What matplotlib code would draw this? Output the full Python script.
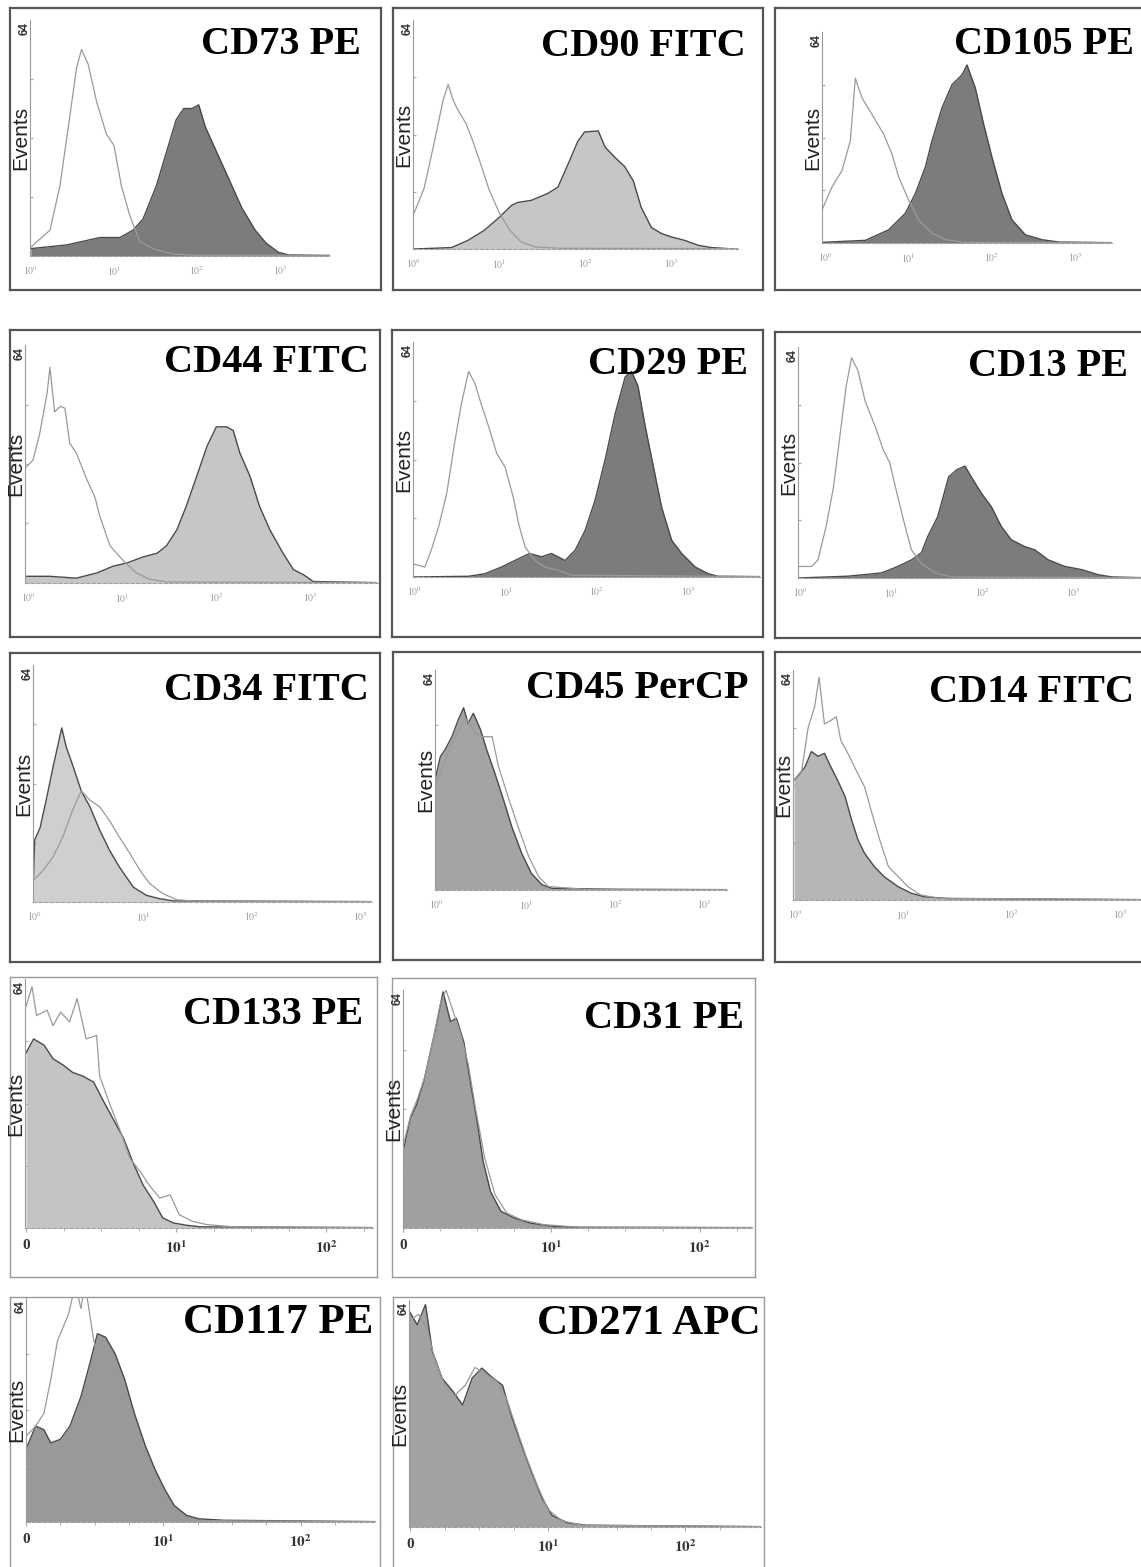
import matplotlib
matplotlib.use('Agg')
import matplotlib.pyplot as plt

plt.rcParams['mathtext.fontset'] = 'stix'

# ---- data: x in decades (rows 1-3) or display units (rows 4-5), y = events (0-64)
cd73_ctrl_x = [0, 0.23, 0.35, 0.47, 0.55, 0.61, 0.69, 0.79, 0.91, 1.0, 1.09, 1.19, 1.31, 1.47, 1.71, 2.0, 3.6]
cd73_ctrl_y = [2.4, 7, 19, 38, 51, 56, 52, 42, 33, 30, 19, 11, 4, 2, 0.5, 0.2, 0.2]
cd73_pos_x = [0, 0.43, 0.83, 1.07, 1.23, 1.35, 1.51, 1.63, 1.75, 1.84, 1.94, 2.02, 2.1, 2.22, 2.38, 2.54, 2.7, 2.83, 2.98, 3.1, 3.6]
cd73_pos_y = [2, 3, 5, 5, 7, 10, 19, 28, 37, 40, 40, 41, 35, 29, 21, 13, 7, 3.5, 1, 0.3, 0.1]

cd90_ctrl_x = [0, 0.12, 0.24, 0.34, 0.40, 0.46, 0.51, 0.61, 0.69, 0.79, 0.88, 1.0, 1.12, 1.25, 1.41, 1.7, 3.78]
cd90_ctrl_y = [9.9, 17, 30, 41.5, 46, 41.5, 39, 35, 30, 23, 16.4, 9.9, 5.2, 2, 0.6, 0.2, 0.1]
cd90_pos_x = [0, 0.44, 0.63, 0.82, 0.98, 1.14, 1.21, 1.37, 1.56, 1.68, 1.8, 1.91, 1.99, 2.15, 2.23, 2.34, 2.46, 2.56, 2.65, 2.77, 2.89, 3.0, 3.16, 3.32, 3.47, 3.74]
cd90_pos_y = [0, 0.4, 2.4, 5.2, 8.5, 12.2, 13, 13.6, 15.5, 17.3, 23.8, 30, 32.7, 33, 28.5, 25.7, 23, 19, 11.7, 6, 4.3, 3.4, 2.4, 1, 0.4, 0]

cd105_ctrl_x = [-0.04, 0.08, 0.2, 0.3, 0.36, 0.44, 0.56, 0.7, 0.8, 0.88, 1.0, 1.12, 1.28, 1.44, 1.68, 3.44]
cd105_ctrl_y = [10, 17, 22, 31, 50, 44, 39, 33, 27, 20, 13, 7, 3, 1, 0.2, 0.1]
cd105_pos_x = [-0.04, 0.48, 0.76, 0.96, 1.08, 1.2, 1.28, 1.4, 1.52, 1.64, 1.7, 1.8, 1.9, 2.0, 2.12, 2.24, 2.4, 2.6, 2.8, 3.44]
cd105_pos_y = [0.2, 0.8, 4, 9, 15, 23, 31, 41, 48, 51, 54, 47, 36, 26, 15, 7, 2.5, 1, 0.3, 0.1]

cd44_ctrl_x = [-0.03, 0.05, 0.12, 0.2, 0.23, 0.28, 0.34, 0.39, 0.44, 0.51, 0.62, 0.71, 0.76, 0.87, 1.01, 1.15, 1.29, 1.47, 3.7]
cd44_ctrl_y = [31, 33, 40, 51, 58, 46, 47.5, 47, 37.6, 35, 28, 23, 18, 10, 6, 2.7, 1, 0.3, 0.1]
cd44_pos_x = [-0.03, 0.23, 0.51, 0.73, 0.9, 1.05, 1.22, 1.37, 1.47, 1.58, 1.68, 1.79, 1.9, 2.0, 2.11, 2.18, 2.25, 2.36, 2.46, 2.57, 2.71, 2.82, 2.93, 3.03, 3.7]
cd44_pos_y = [1.8, 1.8, 1.3, 2.7, 4.5, 5.4, 7, 8, 10, 14.3, 20.6, 28.6, 36.7, 42, 42, 41, 35, 28.6, 20.6, 14.3, 8, 3.6, 2.2, 0.4, 0.1]

cd29_ctrl_x = [-0.02, 0.11, 0.18, 0.26, 0.35, 0.44, 0.51, 0.59, 0.66, 0.73, 0.81, 0.9, 0.99, 1.08, 1.14, 1.21, 1.32, 1.43, 1.58, 1.72, 3.79]
cd29_ctrl_y = [3.6, 2.7, 7.3, 13.6, 22.7, 37, 47, 56, 52.7, 47, 41, 33.6, 30, 21.8, 14.5, 8.2, 4.5, 2.7, 1.8, 0.5, 0.1]
cd29_pos_x = [-0.02, 0.59, 0.77, 0.95, 1.14, 1.26, 1.39, 1.5, 1.65, 1.76, 1.87, 1.98, 2.09, 2.2, 2.31, 2.38, 2.45, 2.53, 2.62, 2.71, 2.82, 2.93, 3.08, 3.22, 3.33, 3.79]
cd29_pos_y = [0, 0.2, 0.9, 2.7, 5, 6.4, 5.5, 6.4, 4.5, 7.3, 12.7, 21, 32, 44.5, 54.5, 56, 52, 41, 30, 19, 10, 6.4, 2.7, 0.9, 0.2, 0.1]

cd13_ctrl_x = [-0.03, 0.12, 0.19, 0.28, 0.36, 0.43, 0.5, 0.56, 0.63, 0.71, 0.82, 0.91, 0.98, 1.06, 1.15, 1.22, 1.33, 1.48, 1.66, 3.75]
cd13_ctrl_y = [3.2, 3.2, 5, 14.3, 25, 39, 53, 61, 57.5, 49, 42, 35.5, 32, 23.5, 14.3, 7.8, 4, 1.4, 0.3, 0.1]
cd13_pos_x = [-0.03, 0.52, 0.89, 1.07, 1.22, 1.33, 1.4, 1.51, 1.63, 1.72, 1.81, 1.88, 1.99, 2.1, 2.21, 2.32, 2.47, 2.58, 2.73, 2.91, 3.1, 3.28, 3.43, 3.75]
cd13_pos_y = [0, 0.5, 1.4, 3.2, 5, 7, 11.5, 17, 28, 30, 31, 28, 23.5, 19.8, 14.3, 10.6, 8.7, 7.8, 5, 3.2, 2.3, 0.9, 0.3, 0.1]

cd34_ctrl_x = [-0.01, 0.08, 0.17, 0.26, 0.35, 0.43, 0.51, 0.6, 0.69, 0.78, 0.88, 0.97, 1.06, 1.18, 1.31, 1.52, 3.1]
cd34_ctrl_y = [5.9, 8.6, 12.2, 17.6, 24.8, 30, 27.5, 25.7, 22, 17.6, 13, 8.6, 5, 2.3, 0.6, 0.2, 0.1]
cd34_pos_x = [-0.01, 0.0, 0.05, 0.11, 0.17, 0.25, 0.29, 0.35, 0.43, 0.51, 0.6, 0.69, 0.78, 0.91, 1.03, 1.15, 1.28, 3.1]
cd34_pos_y = [6.8, 16.7, 20, 28, 36.5, 47, 42, 37, 30, 25.7, 19.4, 14, 9.5, 4, 1.8, 0.9, 0.3, 0.1]

cd45_ctrl_x = [-0.02, 0.17, 0.32, 0.47, 0.62, 0.69, 0.8, 0.91, 1.03, 1.14, 1.25, 1.66, 3.25]
cd45_ctrl_y = [30, 42.7, 50, 44.6, 44.6, 36, 27, 18.4, 9.7, 3.9, 1, 0.2, 0.1]
cd45_pos_x = [-0.02, 0.04, 0.09, 0.17, 0.24, 0.3, 0.35, 0.41, 0.49, 0.56, 0.65, 0.75, 0.84, 0.95, 1.06, 1.18, 1.29, 2.03, 3.25]
cd45_pos_y = [32, 38.8, 40.7, 44.6, 49.5, 53, 48.5, 51.4, 46.6, 40.7, 34, 26, 18.4, 10.7, 4.8, 1.5, 0.5, 0.2, 0.1]

cd14_ctrl_x = [-0.01, 0.06, 0.12, 0.18, 0.22, 0.27, 0.33, 0.38, 0.42, 0.5, 0.58, 0.64, 0.7, 0.78, 0.86, 0.95, 1.04, 1.16, 1.32, 3.19]
cd14_ctrl_y = [33.4, 36, 48, 53.8, 62, 49, 50, 51, 44.5, 40, 35, 31.5, 25, 16.7, 9.3, 6.5, 3.7, 1.4, 0.5, 0.1]
cd14_pos_x = [-0.01, 0.02, 0.09, 0.15, 0.21, 0.27, 0.33, 0.39, 0.46, 0.52, 0.58, 0.64, 0.73, 0.82, 0.95, 1.07, 1.19, 1.41, 3.19]
cd14_pos_y = [33.4, 34.3, 37, 41.3, 40, 40.8, 37, 33.4, 28.8, 22.3, 16.7, 13, 9.3, 6.5, 3.7, 1.9, 0.9, 0.4, 0.1]

cd133_ctrl_x = [0, 0.04, 0.07, 0.14, 0.18, 0.23, 0.29, 0.34, 0.4, 0.47, 0.49, 0.56, 0.63, 0.69, 0.76, 0.82, 0.89, 0.96, 1.02, 1.11, 1.2, 1.38, 2.31]
cd133_ctrl_y = [57, 62, 54.6, 56, 52, 55.5, 53, 59, 48.6, 49.5, 39, 31.6, 24.7, 18, 14.5, 11, 7.7, 8.5, 3.4, 1.7, 0.9, 0.3, 0.1]
cd133_pos_x = [0, 0.05, 0.12, 0.18, 0.25, 0.31, 0.38, 0.45, 0.51, 0.58, 0.65, 0.71, 0.78, 0.85, 0.91, 0.98, 1.07, 1.16, 2.31]
cd133_pos_y = [45, 48.6, 47, 43.5, 41.8, 40, 39, 37.5, 33, 28, 23, 17, 11, 6.8, 2.6, 1.3, 0.7, 0.3, 0.1]

cd31_ctrl_x = [0, 0.05, 0.1, 0.15, 0.2, 0.25, 0.29, 0.34, 0.39, 0.44, 0.49, 0.55, 0.62, 0.7, 0.8, 0.95, 1.2, 2.36]
cd31_ctrl_y = [22, 30, 35, 41, 50, 60, 64, 58, 52, 44, 32, 19, 9, 4, 2.2, 0.9, 0.2, 0.1]
cd31_pos_x = [0, 0.05, 0.09, 0.14, 0.18, 0.23, 0.27, 0.32, 0.36, 0.41, 0.45, 0.5, 0.54, 0.59, 0.66, 0.75, 0.86, 1.02, 1.2, 2.36]
cd31_pos_y = [20.6, 29.5, 33, 39.4, 46.5, 55.5, 63.5, 55.5, 56.4, 50, 40.3, 28.6, 18, 9.8, 4.5, 2.7, 1.3, 0.4, 0.2, 0.1]

cd117_ctrl_x = [0.0, 0.07, 0.13, 0.18, 0.23, 0.31, 0.36, 0.4, 0.43, 0.49, 0.54, 0.6, 0.67, 0.74, 0.83, 0.94, 1.05, 1.19, 2.55]
cd117_ctrl_y = [24.5, 27.4, 31, 40.6, 51.9, 59.4, 68, 61, 68, 52.8, 42.5, 31, 18, 9.4, 4.7, 2.8, 0.9, 0.4, 0.1]
cd117_pos_x = [0.0, 0.07, 0.13, 0.18, 0.25, 0.32, 0.4, 0.47, 0.52, 0.58, 0.65, 0.72, 0.79, 0.87, 0.94, 1.01, 1.08, 1.17, 1.26, 1.44, 2.55]
cd117_pos_y = [20.8, 27.4, 26.4, 22.6, 23.6, 27.4, 35.8, 46, 53.8, 52.8, 48, 40.6, 31, 21.7, 15, 9.4, 4.7, 1.9, 0.9, 0.5, 0.1]

cd271_ctrl_x = [-0.01, 0.06, 0.12, 0.18, 0.25, 0.32, 0.4, 0.47, 0.55, 0.63, 0.7, 0.77, 0.84, 0.92, 1.0, 1.1, 1.25, 2.55]
cd271_ctrl_y = [58, 60, 56, 47, 40, 37, 40, 45, 43, 41, 36, 28, 20, 12, 5, 1.8, 0.5, 0.1]
cd271_pos_x = [-0.01, 0.05, 0.11, 0.16, 0.23, 0.31, 0.38, 0.45, 0.52, 0.6, 0.67, 0.74, 0.81, 0.88, 0.96, 1.03, 1.14, 1.28, 2.55]
cd271_pos_y = [61, 57, 62.7, 49.5, 42, 38.2, 34.4, 42, 44.8, 42, 40, 30.7, 23, 15.6, 8, 3.3, 1.2, 0.5, 0.1]

titles = ['CD73 PE', 'CD90 FITC', 'CD105 PE', 'CD44 FITC', 'CD29 PE', 'CD13 PE',
          'CD34 FITC', 'CD45 PerCP', 'CD14 FITC', 'CD133 PE', 'CD31 PE',
          'CD117 PE', 'CD271 APC']
log_ticks = [0, 1, 2, 3]
log_labels = [r'$10^{0}$', r'$10^{1}$', r'$10^{2}$', r'$10^{3}$']
lin_ticks = [0, 1, 2]
lin_labels = ['0', r'$\mathbf{10^{1}}$', r'$\mathbf{10^{2}}$']

curves = [
    (cd73_ctrl_x, cd73_ctrl_y, cd73_pos_x, cd73_pos_y),
    (cd90_ctrl_x, cd90_ctrl_y, cd90_pos_x, cd90_pos_y),
    (cd105_ctrl_x, cd105_ctrl_y, cd105_pos_x, cd105_pos_y),
    (cd44_ctrl_x, cd44_ctrl_y, cd44_pos_x, cd44_pos_y),
    (cd29_ctrl_x, cd29_ctrl_y, cd29_pos_x, cd29_pos_y),
    (cd13_ctrl_x, cd13_ctrl_y, cd13_pos_x, cd13_pos_y),
    (cd34_ctrl_x, cd34_ctrl_y, cd34_pos_x, cd34_pos_y),
    (cd45_ctrl_x, cd45_ctrl_y, cd45_pos_x, cd45_pos_y),
    (cd14_ctrl_x, cd14_ctrl_y, cd14_pos_x, cd14_pos_y),
    (cd133_ctrl_x, cd133_ctrl_y, cd133_pos_x, cd133_pos_y),
    (cd31_ctrl_x, cd31_ctrl_y, cd31_pos_x, cd31_pos_y),
    (cd117_ctrl_x, cd117_ctrl_y, cd117_pos_x, cd117_pos_y),
    (cd271_ctrl_x, cd271_ctrl_y, cd271_pos_x, cd271_pos_y),
]

# ---- layout (pixels): box l,t,r,b ; plot yaxis_x, top, end_x, baseline ; xlim ; title right, y, size
W, H = 1141, 1567
layout = [
    ((10, 8, 381, 290), (30, 20, 330, 256), (-0.01, 3.6), (361, 45, 29)),
    ((393, 8, 763, 290), (413, 20, 738, 249), (-0.01, 3.78), (746, 47, 29)),
    ((775, 8, 1160, 290), (822, 32, 1112, 243), (-0.04, 3.44), (1134, 45, 29)),
    ((10, 330, 380, 637), (25, 345, 378, 583), (-0.035, 3.72), (369, 363, 29)),
    ((392, 330, 763, 637), (413, 342, 760, 577), (-0.02, 3.79), (748, 365, 29)),
    ((775, 332, 1160, 638), (798, 347, 1141, 578), (-0.03, 3.75), (1128, 367, 29)),
    ((10, 653, 380, 962), (33, 665, 372, 902), (-0.015, 3.11), (369, 690, 29)),
    ((393, 652, 763, 960), (435, 670, 727, 890), (-0.02, 3.25), (748, 688, 29)),
    ((775, 652, 1160, 962), (793, 670, 1141, 900), (-0.02, 3.19), (1134, 692, 29)),
    ((10, 977, 377, 1277), (25, 979, 373, 1228), (-0.007, 2.31), (363, 1015, 29)),
    ((392, 978, 755, 1277), (403, 990, 753, 1228), (0.0, 2.36), (744, 1018, 29)),
    ((10, 1297, 380, 1580), (26, 1298, 376, 1522), (0.0, 2.55), (373, 1323, 31)),
    ((393, 1297, 764, 1580), (409, 1300, 761, 1527), (-0.01, 2.55), (761, 1324, 31)),
]
fills = ['#7c7c7c', '#c6c6c6', '#7c7c7c', '#c6c6c6', '#7c7c7c', '#7c7c7c',
         '#cfcfcf', '#a4a4a4', '#b6b6b6', '#c4c4c4', '#a0a0a0', '#999999', '#a2a2a2']


def fx(px):
    return px / W


def fy(py):
    return 1 - py / H


fig = plt.figure(figsize=(W / 100, H / 100), dpi=100)
fig.patch.set_facecolor('white')

for i in range(len(titles)):
    (bl, bt, br, bb), (px, pt, pe, pb), xlim, (tr, ty, tsize) = layout[i]
    ctrl_x, ctrl_y, pos_x, pos_y = curves[i]
    lower = i >= 9

    box = fig.add_axes([fx(bl), fy(bb), (br - bl) / W, (bb - bt) / H])
    box.set_xticks([])
    box.set_yticks([])
    box.patch.set_alpha(0)
    for s in box.spines.values():
        s.set_color('#999999' if lower else '#555555')
        s.set_linewidth(1.0 if lower else 1.6)

    ax = fig.add_axes([fx(px), fy(pb), (pe - px) / W, (pb - pt) / H])
    ax.patch.set_alpha(0)
    ax.fill_between(pos_x, pos_y, 0, color=fills[i], lw=0)
    ax.plot(pos_x, pos_y, color='#4a4a4a', lw=1.0)
    ax.plot(ctrl_x, ctrl_y, color='#9a9a9a', lw=0.9)
    ax.set_xlim(*xlim)
    ax.set_ylim(0, 64)
    ax.spines['top'].set_visible(False)
    ax.spines['right'].set_visible(False)
    ax.spines['left'].set_color('#9a9a9a')
    ax.spines['left'].set_linewidth(0.8)
    ax.spines['bottom'].set_color('#a0a0a0')
    ax.spines['bottom'].set_linewidth(0.8)
    ax.spines['bottom'].set_linestyle((0, (3, 2)))
    ax.set_yticks([16, 32, 48])
    ax.set_yticklabels([])
    ax.tick_params(axis='y', length=2, direction='in', color='#aaaaaa')
    if lower:
        ax.set_xticks(lin_ticks)
        ax.set_xticklabels(lin_labels, fontsize=11, fontweight='bold',
                           family='Liberation Serif', color='#333333')
        ax.set_xticks([0.25, 0.5, 0.75, 1.25, 1.5, 1.75, 2.25], minor=True)
        ax.tick_params(axis='x', which='major', length=3, pad=5, color='#aaaaaa')
        ax.tick_params(axis='x', which='minor', length=2, color='#aaaaaa')
    else:
        ax.set_xticks(log_ticks)
        ax.set_xticklabels(log_labels, fontsize=7, color='#999999')
        ax.tick_params(axis='x', length=0, pad=6)

    fig.text(fx(tr), fy(ty), titles[i], ha='right', va='center',
             family='Liberation Serif', fontweight='bold', fontsize=tsize, color='black')
    fig.text(fx(px - 9), fy((pt + pb) / 2), 'Events', rotation=90, ha='center', va='center',
             family='Liberation Sans', fontsize=15, color='#222222')
    fig.text(fx(px - 5), fy(pt + 9), '64', rotation=90, ha='center', va='center',
             family='Liberation Sans', fontsize=8.5, fontweight='bold', color='#333333')

fig.savefig('out.png', dpi=100, facecolor='white')
